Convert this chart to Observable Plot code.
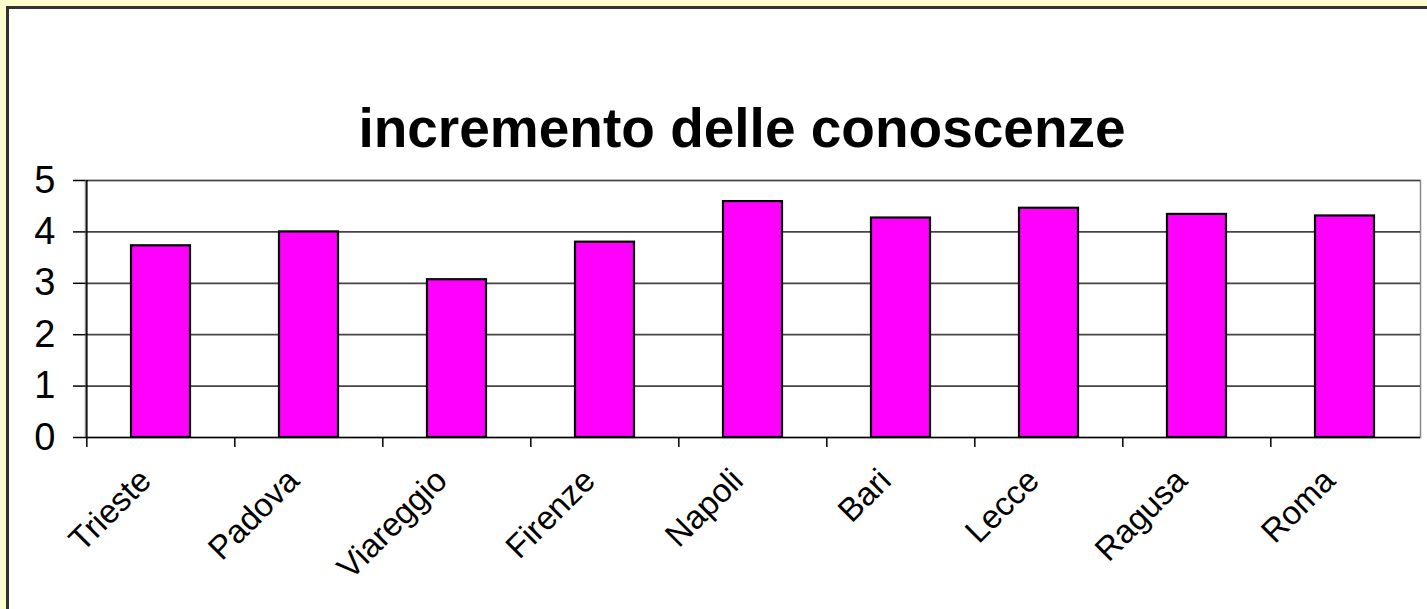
<!DOCTYPE html>
<html><head><meta charset="utf-8">
<script src="https://cdn.jsdelivr.net/npm/d3@7"></script>
<script src="https://cdn.jsdelivr.net/npm/@observablehq/plot@0.6"></script>
<style>
html,body{margin:0;padding:0;background:#ffffcc;overflow:hidden;width:1427px;height:609px;}
#panel{position:absolute;left:6px;top:6px;width:1421px;height:603px;box-sizing:border-box;border-left:3px solid #333;border-top:3px solid #333;background:#fff;overflow:hidden;}
#title{height:156px;box-sizing:border-box;padding-top:92px;padding-left:48px;text-align:center;font-family:"Liberation Sans",Arial,sans-serif;font-weight:bold;font-size:55px;line-height:55px;color:#000;white-space:nowrap;}
</style></head><body>
<div id="panel"><div id="title"></div><div id="chart"></div></div>
<script>
const title = "incremento delle conoscenze";
const cities = ["Trieste","Padova","Viareggio","Firenze","Napoli","Bari","Lecce","Ragusa","Roma"];
const values = [3.73, 4.0, 3.07, 3.80, 4.59, 4.27, 4.46, 4.34, 4.31];
const yTicks = [0, 1, 2, 3, 4, 5];

document.getElementById("title").textContent = title;
const data = cities.map((c, i) => ({city: c, value: values[i]}));
const W = 1418, H = 444, ML = 76, MR = 7, MT = 15, MB = 172;
const step = (W - ML - MR) / cities.length;

const plot = Plot.plot({
  width: W, height: H,
  marginLeft: ML, marginRight: MR, marginTop: MT, marginBottom: MB,
  style: {background: "transparent", fontFamily: "'Liberation Sans', Arial, sans-serif", fontSize: "38px", color: "#000", overflow: "visible"},
  x: {domain: cities, paddingInner: 0.6, paddingOuter: 0.3, label: null},
  y: {domain: [0, 5], label: null},
  marks: [
    Plot.frame({stroke: "#888", strokeWidth: 1.5}),
    Plot.ruleY(yTicks.slice(1), {stroke: "#444", strokeWidth: 1.7}),
    Plot.barY(data, {x: "city", y: "value", fill: "#ff00ff", stroke: "#000", strokeWidth: 2.2}),
    Plot.ruleY([0], {stroke: "#000", strokeWidth: 1.5}),
    Plot.ruleX([cities[0]], {x: d => d, dx: -step / 2, y1: 0, y2: 5, stroke: "#000", strokeWidth: 1.5}),
    Plot.axisY({ticks: yTicks, tickSize: 12, tickPadding: 18, fontSize: 38, tickFormat: d => String(d), stroke: "#000", strokeWidth: 1.5}),
    Plot.axisX({tickSize: 10, tickFormat: () => "", dx: -step / 2, stroke: "#000", strokeWidth: 1.5}),
    Plot.text(cities, {x: d => d, frameAnchor: "bottom", dx: -8, dy: 45, rotate: -45, textAnchor: "end", lineAnchor: "bottom", fontSize: 33, fill: "#000"})
  ]
});
document.getElementById("chart").appendChild(plot);
</script>
</body></html>
